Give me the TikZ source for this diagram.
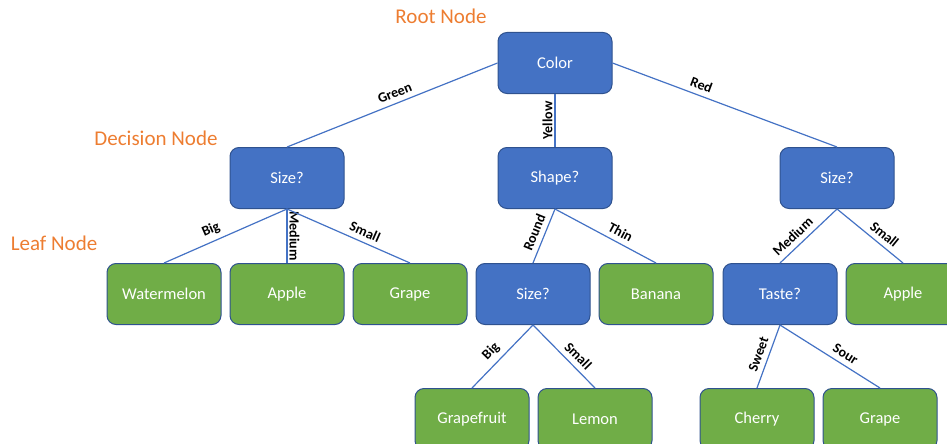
\documentclass[tikz,border=0pt]{standalone}
\usepackage{fontspec}
\setmainfont{Carlito}
\usepackage{xcolor}
\usetikzlibrary{shapes,arrows,positioning}

\definecolor{nodeblue}{HTML}{4472C4}
\definecolor{edgeblue}{HTML}{2F528F}
\definecolor{leafgreen}{HTML}{70AD47}
\definecolor{tagorange}{HTML}{ED7D31}

\begin{document}
\begin{tikzpicture}[x=1pt, y=-1pt, auto]
    \tikzstyle{decision} = [rectangle, draw=edgeblue, line width=1pt, fill=nodeblue, text=white, minimum width=114pt, minimum height=61pt, rounded corners=9pt, font=\fontsize{16.5}{19}\selectfont]
    \tikzstyle{leaf} = [decision, fill=leafgreen]
    \tikzstyle{branch} = [draw=nodeblue, line width=1.2pt]
    \tikzstyle{cond} = [font=\fontsize{14}{16}\selectfont\bfseries, inner sep=2pt]
    \tikzstyle{tag} = [text=tagorange, font=\fontsize{21}{24}\selectfont]

    \useasboundingbox (0,0) rectangle (947,444);
    \clip (0,0) rectangle (947,444);

    % level 0 and 1
    \node [decision] (color) at (555,63) {Color};
    \node [decision, below=53pt of color] (shape) {Shape?};
    \node [decision, left=153pt of shape] (sizeA) {Size?};
    \node [decision, right=167pt of shape] (sizeB) {Size?};

    % level 2
    \node [leaf, below=54pt of sizeA] (appleA) {Apple};
    \node [leaf, left=8pt of appleA] (watermelon) {Watermelon};
    \node [leaf, right=8pt of appleA] (grapeA) {Grape};
    \node [decision, right=8pt of grapeA] (sizeC) {Size?};
    \node [leaf, right=8pt of sizeC] (banana) {Banana};
    \node [decision, right=9pt of banana] (taste) {Taste?};
    \node [leaf, right=8pt of taste] (appleB) {Apple};

    % level 3
    \node [leaf, below=63pt of sizeC, xshift=-61pt] (grapefruit) {Grapefruit};
    \node [leaf, right=8pt of grapefruit] (lemon) {Lemon};
    \node [leaf, below=63pt of taste, xshift=-23pt] (cherry) {Cherry};
    \node [leaf, right=8pt of cherry] (grapeB) {Grape};

    \node [tag] (rootTag) at (441,16) {Root Node};
    \node [tag] (decisionTag) at (156,138) {Decision Node};
    \node [tag] (leafTag) at (54,243) {Leaf Node};

    \path [branch] (color.west) -- node [cond, sloped, above=3pt, pos=.47] {Green} (sizeA.north);
    \path [branch] (color.south) -- node [cond, rotate=90, anchor=south, pos=.5] {Yellow} (shape.north);
    \path [branch] (color.east) -- node [cond, sloped, above=3pt, pos=.38] {Red} (sizeB.north);

    \path [branch] (sizeA.south) -- node [cond, sloped, above=3pt, pos=.58] {Big} (watermelon.north);
    \path [branch] (sizeA.south) -- node [cond, rotate=-90, anchor=south, pos=.5] {Medium} (appleA.north);
    \path [branch] (sizeA.south) -- node [cond, sloped, above=3pt, pos=.6] {Small} (grapeA.north);

    \path [branch] (shape.south) -- node [cond, sloped, above=3pt, pos=.5] {Round} (sizeC.north);
    \path [branch] (shape.south) -- node [cond, sloped, above=3pt, pos=.6] {Thin} (banana.north);

    \path [branch] (sizeB.south) -- node [cond, sloped, above=3pt, pos=.65] {Medium} (taste.north);
    \path [branch] (sizeB.south) -- node [cond, sloped, above=3pt, pos=.62] {Small} (appleB.north);

    \path [branch] (sizeC.south) -- node [cond, sloped, above=3pt, pos=.55] {Big} (grapefruit.north);
    \path [branch] (sizeC.south) -- node [cond, sloped, above=3pt, pos=.61] {Small} (lemon.north);

    \path [branch] (taste.south) -- node [cond, sloped, above=3pt, pos=.52] {Sweet} (cherry.north);
    \path [branch] (taste.south) -- node [cond, sloped, above=3pt, pos=.6] {Sour} (grapeB.north);
\end{tikzpicture}
\end{document}
